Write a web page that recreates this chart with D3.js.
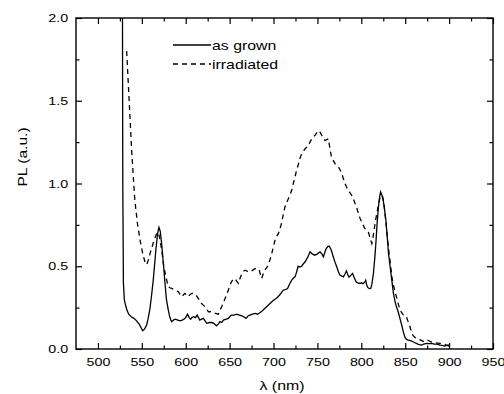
<!DOCTYPE html>
<html>
<head>
<meta charset="utf-8">
<script src="https://cdn.jsdelivr.net/npm/d3@7"></script>
<style>
  html, body { margin: 0; padding: 0; background: #fff; }
  svg { display: block; }
</style>
</head>
<body>
<svg id="chart" width="504" height="394"></svg>
<script>
// PL spectra, wavelength (nm) vs intensity (a.u.)
const asGrownNm = [527.8, 528.3, 529, 530, 531, 533, 535, 538, 541, 544, 547, 549, 551, 553, 555.5, 557, 559, 561, 563, 566,
  568, 569.5, 571, 572.5, 574.5, 576, 578, 580, 581.5, 583, 584, 586, 588, 591, 593.5, 596, 598, 600, 602, 604,
  605.6, 607, 609, 611, 613, 615, 616, 618, 620, 622, 624, 627, 629.6, 632, 635, 637, 639, 641, 643, 646,
  648.6, 650, 652, 655, 658, 661, 664, 666, 668.7, 671, 673, 676, 679, 682, 684.6, 687, 690, 693, 696, 699,
  701.7, 704, 706.7, 709, 711, 714, 716, 718, 720.7, 723, 724.5, 726, 728, 730, 732, 734, 736, 739, 741.6, 744,
  747, 750, 753, 755, 756.8, 758.5, 760, 762, 763.6, 766, 768, 770, 772, 774, 775.8, 778, 779.6, 781.5, 783, 784.5,
  786, 788, 790, 792, 794, 796, 798.6, 800, 802, 804, 805, 806, 807.3, 809, 810.7, 812, 813.8, 815.5, 816.8, 818,
  819.5, 821, 822, 823.5, 825, 826.5, 828, 829.5, 831, 833, 834.7, 836.5, 838.5, 840, 842, 844, 846, 848, 849.9, 851.5,
  853.6, 856, 859, 862, 865, 868.8, 871, 874.5, 877, 880, 883, 886, 889.7, 892, 895, 897, 899, 900];
const asGrownPL = [2.4, 1.0, 0.40, 0.30, 0.275, 0.235, 0.21, 0.195, 0.185, 0.17, 0.15, 0.13, 0.11, 0.12, 0.145, 0.18, 0.235, 0.32, 0.416, 0.60,
  0.70, 0.735, 0.71, 0.64, 0.52, 0.42, 0.30, 0.24, 0.20, 0.175, 0.165, 0.175, 0.18, 0.175, 0.17, 0.175, 0.18, 0.19, 0.21, 0.19,
  0.18, 0.19, 0.195, 0.19, 0.205, 0.185, 0.175, 0.18, 0.185, 0.17, 0.155, 0.16, 0.16, 0.155, 0.14, 0.15, 0.165, 0.16, 0.175, 0.18,
  0.185, 0.195, 0.205, 0.205, 0.21, 0.205, 0.20, 0.195, 0.185, 0.20, 0.205, 0.21, 0.215, 0.21, 0.22, 0.23, 0.245, 0.26, 0.275, 0.29,
  0.30, 0.31, 0.325, 0.34, 0.355, 0.36, 0.365, 0.39, 0.416, 0.43, 0.436, 0.46, 0.50, 0.495, 0.50, 0.515, 0.527, 0.555, 0.587, 0.575,
  0.567, 0.575, 0.587, 0.575, 0.557, 0.585, 0.607, 0.62, 0.621, 0.595, 0.557, 0.525, 0.497, 0.465, 0.446, 0.44, 0.436, 0.455, 0.472, 0.45,
  0.434, 0.445, 0.456, 0.43, 0.406, 0.40, 0.396, 0.40, 0.395, 0.405, 0.416, 0.39, 0.372, 0.365, 0.366, 0.39, 0.456, 0.56, 0.657, 0.76,
  0.858, 0.925, 0.949, 0.93, 0.898, 0.84, 0.778, 0.68, 0.577, 0.49, 0.416, 0.34, 0.285, 0.255, 0.225, 0.185, 0.145, 0.10, 0.068, 0.058,
  0.054, 0.05, 0.044, 0.035, 0.028, 0.024, 0.03, 0.034, 0.032, 0.034, 0.03, 0.03, 0.024, 0.022, 0.018, 0.022, 0.024, 0.02];

const irradiatedNm = [532.7, 534.6, 536.5, 538.4, 540.3, 542, 545, 548, 551, 554, 555.5, 557.4, 559, 561, 564, 567, 568.5, 570, 572.6, 575,
  577.5, 580, 582, 584, 587.8, 591.6, 593.5, 595.4, 597, 599, 601, 603, 605, 606.8, 608.5, 610.6, 612.5, 614.4, 616, 618,
  620, 622, 624, 625.8, 628, 631.5, 634, 637, 639, 641, 643, 644.8, 646.5, 648.6, 650, 652, 654, 656, 658, 660,
  662, 664, 665.8, 667.6, 670, 673, 676, 679, 681, 683.6, 685, 686.5, 688, 690, 692, 694, 696, 698, 700, 701.7,
  703.5, 705.5, 707, 709, 711, 713, 715, 717, 719, 720.7, 722.5, 724.5, 726, 728, 730, 732, 734, 736, 738, 739.7,
  741.5, 743.5, 745, 747, 749, 751, 753, 755, 757, 758.7, 760.5, 762.5, 764, 766, 768, 770, 772, 774, 776, 777.7,
  779.5, 781.5, 783, 785, 787, 789, 791, 793, 795, 796.7, 798.5, 800.5, 802, 804, 806, 808, 810, 812, 813, 814.5,
  816, 817.6, 819.5, 821.4, 823, 824.4, 826, 827, 828.5, 830, 831.8, 833.5, 835, 837, 839, 841, 842.5, 844, 846, 848,
  851, 853, 854.8, 856.5, 858.6, 861, 863, 865, 867.7, 870, 871.5, 873, 875, 877, 879, 881, 884, 887, 889.7, 892,
  895, 897, 899, 900];
const irradiatedPL = [1.80, 1.60, 1.40, 1.20, 1.04, 0.90, 0.758, 0.657, 0.577, 0.517, 0.51, 0.537, 0.57, 0.607, 0.657, 0.70, 0.705, 0.68, 0.60, 0.497,
  0.436, 0.376, 0.37, 0.366, 0.356, 0.346, 0.33, 0.316, 0.325, 0.336, 0.325, 0.316, 0.33, 0.336, 0.335, 0.33, 0.32, 0.305, 0.29, 0.275,
  0.265, 0.255, 0.24, 0.225, 0.225, 0.219, 0.215, 0.21, 0.235, 0.255, 0.28, 0.305, 0.33, 0.356, 0.38, 0.406, 0.42, 0.426, 0.41, 0.396,
  0.43, 0.456, 0.47, 0.476, 0.47, 0.466, 0.475, 0.486, 0.48, 0.48, 0.45, 0.426, 0.45, 0.476, 0.49, 0.506, 0.54, 0.577, 0.62, 0.657,
  0.68, 0.697, 0.72, 0.758, 0.81, 0.858, 0.885, 0.909, 0.935, 0.959, 1.0, 1.039, 1.075, 1.11, 1.15, 1.18, 1.195, 1.21, 1.22, 1.23,
  1.25, 1.27, 1.28, 1.29, 1.305, 1.32, 1.31, 1.29, 1.27, 1.26, 1.265, 1.27, 1.22, 1.16, 1.14, 1.12, 1.11, 1.10, 1.08, 1.06,
  1.03, 0.999, 0.98, 0.959, 0.945, 0.929, 0.905, 0.878, 0.85, 0.818, 0.79, 0.768, 0.75, 0.728, 0.72, 0.708, 0.67, 0.637, 0.66, 0.718,
  0.77, 0.818, 0.87, 0.919, 0.93, 0.919, 0.87, 0.818, 0.74, 0.657, 0.57, 0.497, 0.43, 0.376, 0.335, 0.296, 0.265, 0.235, 0.22, 0.205,
  0.199, 0.17, 0.145, 0.115, 0.084, 0.07, 0.064, 0.06, 0.054, 0.048, 0.044, 0.05, 0.054, 0.05, 0.044, 0.04, 0.038, 0.036, 0.034, 0.03,
  0.028, 0.022, 0.02, 0.015];

const xMajorTicks = [500, 550, 600, 650, 700, 750, 800, 850, 900, 950];
const xMinorTicks = [525, 575, 625, 675, 725, 775, 825, 875, 925];
const yMajorTicks = [0.0, 0.5, 1.0, 1.5, 2.0];
const yMinorTicks = [0.25, 0.75, 1.25, 1.75];
const seriesNames = ['as grown', 'irradiated'];

const font = 'Liberation Sans, Arial, sans-serif';
const stretch = 1.3;   // the original lettering is wide

const margin = {left: 76, right: 11, top: 18, bottom: 45};
const W = 504, H = 394;
const innerW = W - margin.left - margin.right;
const innerH = H - margin.top - margin.bottom;

const svg = d3.select('#chart');
const g = svg.append('g').attr('transform', `translate(${margin.left},${margin.top})`);

const x = d3.scaleLinear().domain([475, 950]).range([0, innerW]);
const y = d3.scaleLinear().domain([0, 2]).range([innerH, 0]);

svg.append('defs').append('clipPath').attr('id', 'plotclip')
  .append('rect').attr('width', innerW).attr('height', innerH);

// axes, ticks pointing inward on all four sides
function styleAxis(sel) {
  sel.select('.domain').remove();
  sel.selectAll('line').attr('stroke', '#000').attr('stroke-width', 1.2);
  sel.selectAll('text').attr('font-family', font).attr('font-size', 11).attr('fill', '#000');
}
const mk = (axis, sc, ticks, size) => axis(sc).tickValues(ticks).tickSize(size);

const xb = g.append('g').attr('transform', `translate(0,${innerH})`)
  .call(mk(d3.axisBottom, x, xMajorTicks, -6).tickFormat(d3.format('d')).tickPadding(9));
styleAxis(xb);
xb.selectAll('text').attr('transform', `scale(${stretch},1)`);
const xbm = g.append('g').attr('transform', `translate(0,${innerH})`)
  .call(mk(d3.axisBottom, x, xMinorTicks, -3.5).tickFormat(''));
styleAxis(xbm);
styleAxis(g.append('g').call(mk(d3.axisTop, x, xMajorTicks, -6).tickFormat('')));
styleAxis(g.append('g').call(mk(d3.axisTop, x, xMinorTicks, -3.5).tickFormat('')));

const yl = g.append('g')
  .call(mk(d3.axisLeft, y, yMajorTicks, -6).tickFormat(d3.format('.1f')).tickPadding(6));
styleAxis(yl);
yl.selectAll('text').attr('transform', `scale(${stretch},1)`);
styleAxis(g.append('g').call(mk(d3.axisLeft, y, yMinorTicks, -3.5).tickFormat('')));
styleAxis(g.append('g').attr('transform', `translate(${innerW},0)`)
  .call(mk(d3.axisRight, y, yMajorTicks, -6).tickFormat('')));
styleAxis(g.append('g').attr('transform', `translate(${innerW},0)`)
  .call(mk(d3.axisRight, y, yMinorTicks, -3.5).tickFormat('')));

// frame
g.append('rect').attr('width', innerW).attr('height', innerH)
  .attr('fill', 'none').attr('stroke', '#000').attr('stroke-width', 1.4);

// curves
const line = d3.line().x(d => x(d[0])).y(d => y(d[1]));
const plot = g.append('g').attr('clip-path', 'url(#plotclip)');
plot.append('path')
  .datum(d3.zip(asGrownNm, asGrownPL))
  .attr('d', line).attr('fill', 'none').attr('stroke', '#000').attr('stroke-width', 1.3);
plot.append('path')
  .datum(d3.zip(irradiatedNm, irradiatedPL))
  .attr('d', line).attr('fill', 'none').attr('stroke', '#000').attr('stroke-width', 1.3)
  .attr('stroke-dasharray', '5,4');

// legend
const legend = svg.append('g').attr('transform', 'translate(173,45)');
seriesNames.forEach((name, i) => {
  const row = legend.append('g').attr('transform', `translate(0,${i * 19})`);
  row.append('line').attr('x1', 0).attr('x2', 38).attr('y1', 0).attr('y2', 0)
    .attr('stroke', '#000').attr('stroke-width', 1.3)
    .attr('stroke-dasharray', i === 1 ? '5,4' : null);
  row.append('text').attr('transform', `translate(39,4.5) scale(1.22,1)`)
    .attr('font-family', font).attr('font-size', 13).text(name);
});

// axis titles
svg.append('text')
  .attr('transform', `translate(282,390) scale(1.22,1)`)
  .attr('text-anchor', 'middle').attr('font-family', font).attr('font-size', 13)
  .text('λ (nm)');
svg.append('text')
  .attr('transform', `translate(27,157) rotate(-90) scale(1.2,1)`)
  .attr('text-anchor', 'middle').attr('font-family', font).attr('font-size', 13)
  .text('PL (a.u.)');
</script>
</body>
</html>
